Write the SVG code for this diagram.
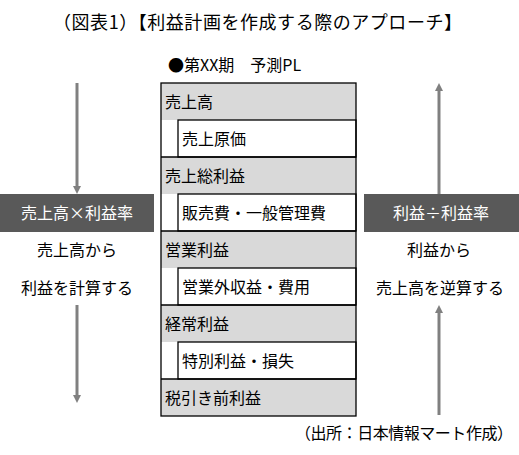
<svg xmlns="http://www.w3.org/2000/svg" width="519" height="455" viewBox="0 0 519 455">
<defs>
<style>
text{font-family:"Noto Sans CJK JP","Noto Sans",sans-serif;font-size:16px;fill:#000}
.title{font-size:18px}
.c{text-anchor:middle}
.w{fill:#fff}
.gray{fill:#d9d9d9;stroke:none}
.inner{fill:#fff;stroke:#000;stroke-width:1.3}
.hl{stroke:#000;stroke-width:1.3}
.dark{fill:#595959}
.arr{stroke:#808080;stroke-width:3;fill:none;marker-end:url(#ah)}
</style>
<marker id="ah" viewBox="0 0 8 8" refX="0" refY="4" markerWidth="8" markerHeight="8" markerUnits="userSpaceOnUse" orient="auto">
<path d="M0,0 L8,4 L0,8 z" fill="#808080"/>
</marker>
</defs>
<rect width="519" height="455" fill="#fff"/>
<text class="title" x="53" y="29" textLength="409" lengthAdjust="spacing">（図表1）【利益計画を作成する際のアプローチ】</text>
<text x="168" y="71">●第XX期　予測PL</text>

<g id="pl-table">
<rect class="gray" x="161" y="83" width="195" height="37"/>
<rect class="gray" x="161" y="157" width="195" height="37"/>
<rect class="gray" x="161" y="231" width="195" height="37"/>
<rect class="gray" x="161" y="305" width="195" height="37"/>
<rect class="gray" x="161" y="379" width="195" height="37"/>
<rect class="inner" x="178" y="120" width="178" height="37"/>
<rect class="inner" x="178" y="194" width="178" height="37"/>
<rect class="inner" x="178" y="268" width="178" height="37"/>
<rect class="inner" x="178" y="342" width="178" height="37"/>
<line class="hl" x1="161" y1="157" x2="356" y2="157"/>
<line class="hl" x1="161" y1="231" x2="356" y2="231"/>
<line class="hl" x1="161" y1="305" x2="356" y2="305"/>
<line class="hl" x1="161" y1="379" x2="356" y2="379"/>
<rect x="161" y="83" width="195" height="333" fill="none" stroke="#000" stroke-width="1.3"/>
<text x="165" y="107.5">売上高</text>
<text x="182" y="144.5">売上原価</text>
<text x="165" y="181.5">売上総利益</text>
<text x="182" y="218.5">販売費・一般管理費</text>
<text x="165" y="255.5">営業利益</text>
<text x="182" y="292.5">営業外収益・費用</text>
<text x="165" y="329.5">経常利益</text>
<text x="182" y="366.5">特別利益・損失</text>
<text x="165" y="403.5">税引き前利益</text>
</g>

<g id="left-box">
<rect class="dark" x="0" y="194" width="154" height="38"/>
<text class="c w" x="77" y="219">売上高×利益率</text>
</g>
<g id="left-label">
<text class="c" x="77" y="256">売上高から</text>
<text class="c" x="77" y="294">利益を計算する</text>
</g>

<g id="right-box">
<rect class="dark" x="364" y="194" width="155" height="38"/>
<text class="c w" x="441" y="219">利益÷利益率</text>
</g>
<g id="right-label">
<text class="c" x="439" y="256">利益から</text>
<text class="c" x="440" y="294">売上高を逆算する</text>
</g>

<g id="connectors">
<line class="arr" x1="77" y1="83" x2="77" y2="186"/>
<line class="arr" x1="77" y1="305" x2="77" y2="395"/>
<line class="arr" x1="439" y1="194" x2="439" y2="91"/>
<line class="arr" x1="439" y1="415" x2="439" y2="313"/>
</g>

<text x="295" y="439" textLength="218" lengthAdjust="spacing">（出所：日本情報マート作成）</text>
</svg>
